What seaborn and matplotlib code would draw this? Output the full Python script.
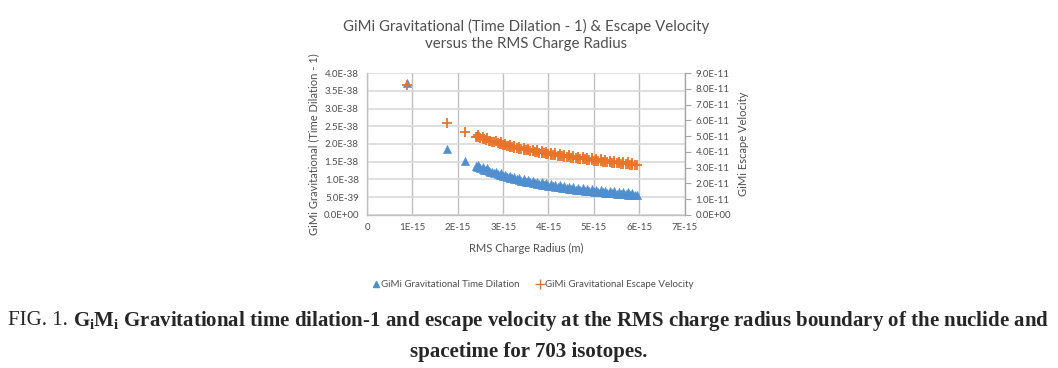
import matplotlib
matplotlib.use("Agg")
import matplotlib.pyplot as plt
import matplotlib.ticker as mticker
from matplotlib.lines import Line2D
import seaborn as sns
import pandas as pd

# RMS charge radius (in 1E-15 m)
radius = [0.88, 1.77, 2.15,
          2.40, 2.43, 2.46, 2.50, 2.55, 2.58, 2.62, 2.68, 2.72, 2.75, 2.80,
          2.88, 2.92, 2.96, 3.00, 3.04, 3.08, 3.12, 3.16, 3.20, 3.25, 3.30,
          3.35, 3.40, 3.45, 3.50, 3.55, 3.60, 3.65, 3.70, 3.75, 3.80, 3.85,
          3.90, 3.95, 4.00, 4.05, 4.10, 4.15, 4.20, 4.25, 4.30, 4.35, 4.40,
          4.45, 4.50, 4.55, 4.60, 4.65, 4.70, 4.75, 4.80, 4.85, 4.90, 4.95,
          5.00, 5.05, 5.10, 5.15, 5.20, 5.25, 5.30, 5.35, 5.40, 5.45, 5.50,
          5.55, 5.60, 5.65, 5.70, 5.75, 5.80, 5.85, 5.90, 5.95,
          2.45, 2.55, 2.65, 2.85, 2.95, 3.05, 3.15, 3.25, 3.35, 3.45, 3.55,
          3.65, 3.75, 3.85, 3.95, 4.05, 4.15, 4.25, 4.35, 4.45, 4.55, 4.65,
          4.75, 4.85, 4.95, 5.05, 5.15, 5.25, 5.35, 5.45, 5.55, 5.65, 5.75,
          5.85]

# GiMi gravitational (time dilation - 1), in 1E-38
time_dilation = [3.73, 1.85, 1.53,
                 1.375, 1.358, 1.341, 1.320, 1.294, 1.279, 1.260, 1.231, 1.213,
                 1.200, 1.179, 1.146, 1.130, 1.115, 1.100, 1.086, 1.071, 1.058,
                 1.044, 1.031, 1.015, 1.000, 0.985, 0.971, 0.957, 0.943, 0.930,
                 0.917, 0.904, 0.892, 0.880, 0.868, 0.857, 0.846, 0.835, 0.825,
                 0.815, 0.805, 0.795, 0.786, 0.776, 0.767, 0.759, 0.750, 0.742,
                 0.733, 0.725, 0.717, 0.710, 0.702, 0.695, 0.688, 0.680, 0.673,
                 0.667, 0.660, 0.653, 0.647, 0.641, 0.635, 0.629, 0.623, 0.617,
                 0.611, 0.606, 0.600, 0.595, 0.589, 0.584, 0.579, 0.574, 0.569,
                 0.564, 0.559, 0.555,
                 1.41, 1.35, 1.31, 1.22, 1.18, 1.14, 1.11, 1.08, 1.05, 1.02,
                 0.99, 0.96, 0.94, 0.92, 0.90, 0.875, 0.855, 0.836, 0.819,
                 0.802, 0.785, 0.770, 0.755, 0.740, 0.727, 0.713, 0.701, 0.689,
                 0.677, 0.666, 0.655, 0.644, 0.634, 0.624]

# GiMi escape velocity, in 1E-11
escape_velocity = [8.23, 5.84, 5.25,
                   4.975, 4.944, 4.914, 4.875, 4.827, 4.798, 4.763, 4.708,
                   4.673, 4.648, 4.607, 4.542, 4.510, 4.480, 4.450, 4.421,
                   4.392, 4.364, 4.335, 4.308, 4.275, 4.243, 4.211, 4.180,
                   4.151, 4.120, 4.092, 4.063, 4.034, 4.007, 3.980, 3.953,
                   3.928, 3.903, 3.877, 3.854, 3.830, 3.807, 3.783, 3.762,
                   3.738, 3.716, 3.696, 3.674, 3.655, 3.633, 3.613, 3.593,
                   3.575, 3.555, 3.537, 3.519, 3.499, 3.481, 3.465, 3.447,
                   3.429, 3.413, 3.397, 3.381, 3.365, 3.349, 3.333, 3.317,
                   3.303, 3.287, 3.273, 3.256, 3.242, 3.228, 3.214, 3.200,
                   3.186, 3.172, 3.161,
                   5.04, 4.95, 4.85, 4.69, 4.61, 4.53, 4.46, 4.40, 4.33, 4.27,
                   4.21, 4.15, 4.10, 4.05, 4.00, 3.95, 3.90, 3.86, 3.82, 3.78,
                   3.73, 3.70, 3.66, 3.62, 3.59, 3.55, 3.52, 3.49, 3.45, 3.42,
                   3.39, 3.36, 3.33, 3.31]

df = pd.DataFrame({
    "radius": [r * 1e-15 for r in radius],
    "td": [v * 1e-38 for v in time_dilation],
    "ev": [v * 1e-11 for v in escape_velocity],
})

sns.set_style("white")
plt.rcParams["font.family"] = ["Lato", "DejaVu Sans"]
plt.rcParams["mathtext.fontset"] = "custom"
plt.rcParams["mathtext.bf"] = "Liberation Serif:bold"
plt.rcParams["mathtext.rm"] = "Liberation Serif:bold"

grey = "#505050"
blue = "#4F8FD0"
orange = "#E8742A"

fig = plt.figure(figsize=(10.58, 3.68), dpi=100)
ax = fig.add_axes([0.347, 0.4158, 0.3, 0.3858])
ax2 = ax.twinx()

sns.scatterplot(data=df, x="radius", y="td", ax=ax, marker="^", s=36,
                color=blue, edgecolor=blue, linewidth=0.3, zorder=3)
sns.scatterplot(data=df, x="radius", y="ev", ax=ax2, marker="+", s=60,
                color=orange, linewidth=1.3, zorder=3)

ax.set_xlim(0, 7e-15)
ax.set_ylim(0, 4e-38)
ax2.set_ylim(0, 9e-11)
ax.set_xticks([i * 1e-15 for i in range(8)])
ax.set_yticks([i * 0.5e-38 for i in range(9)])
ax2.set_yticks([i * 1e-11 for i in range(10)])

ax.xaxis.set_major_formatter(mticker.FuncFormatter(
    lambda v, p: "0" if v == 0 else f"{v:.0E}"))
ax.yaxis.set_major_formatter(mticker.FuncFormatter(lambda v, p: f"{v:.1E}"))
ax2.yaxis.set_major_formatter(mticker.FuncFormatter(lambda v, p: f"{v:.1E}"))

ax.grid(axis="y", color="#D9D9D9", linewidth=1.2)
ax.grid(axis="x", color="#BFBFBF", linewidth=1.0)
ax.set_axisbelow(True)
ax2.grid(False)

for a in (ax, ax2):
    for s in a.spines.values():
        s.set_color("#BFBFBF")
        s.set_linewidth(1.0)
ax.spines["top"].set_visible(False)
ax2.spines["top"].set_visible(False)
ax2.spines["left"].set_visible(False)
ax2.spines["bottom"].set_visible(False)
ax.spines["right"].set_visible(False)
ax2.spines["right"].set_color("#A6A6A6")

ax.tick_params(axis="both", length=0, labelsize=7, colors=grey, pad=6)
ax2.tick_params(axis="y", length=4, width=0.8, color="#A6A6A6",
                labelsize=7, labelcolor=grey, pad=4)

ax.set_xlabel("RMS Charge Radius (m)", fontsize=8, color=grey, labelpad=8)
ax.set_ylabel("GiMi Gravitational (Time Dilation - 1)", fontsize=8,
              color=grey, labelpad=3)
ax2.set_ylabel("GiMi Escape Velocity", fontsize=8, color=grey, labelpad=5)

fig.text(0.497, 0.905, "GiMi Gravitational (Time Dilation - 1) & Escape Velocity\n"
         "versus the RMS Charge Radius", ha="center", va="center",
         fontsize=10.8, color=grey, linespacing=1.35)

handles = [
    Line2D([], [], marker="^", color=blue, linestyle="none", markersize=5),
    Line2D([], [], marker="+", color=orange, linestyle="none", markersize=7,
           markeredgewidth=1.0),
]
fig.legend(handles, ["GiMi Gravitational Time Dilation",
                     "GiMi Gravitational Escape Velocity"],
           loc="center", bbox_to_anchor=(0.503, 0.226), ncol=2, frameon=False,
           fontsize=7, labelcolor=grey, handletextpad=0.0, columnspacing=1.6,
           handlelength=1.0)

# caption: normal "FIG. 1." followed by bold text
serif = "Liberation Serif"
cap1a = fig.text(0, 0.128, "FIG. 1. ", family=serif, fontsize=15,
                 va="center")
cap1b = fig.text(0, 0.128, r"$\mathbf{G_iM_i}$ Gravitational time dilation-1 and "
                 "escape velocity at the RMS charge radius boundary of the "
                 "nuclide and", family=serif, fontsize=15, fontweight="bold",
                 va="center")
fig.text(0.5, 0.043, "spacetime for 703 isotopes.", family=serif, fontsize=15,
         fontweight="bold", ha="center", va="center")
fig.canvas.draw()
r = fig.canvas.get_renderer()
wa = cap1a.get_window_extent(r).width
wb = cap1b.get_window_extent(r).width
W = fig.bbox.width
x0 = (W - wa - wb) / 2
cap1a.set_x(x0 / W)
cap1b.set_x((x0 + wa) / W)

fig.savefig("out.png", dpi=100)
